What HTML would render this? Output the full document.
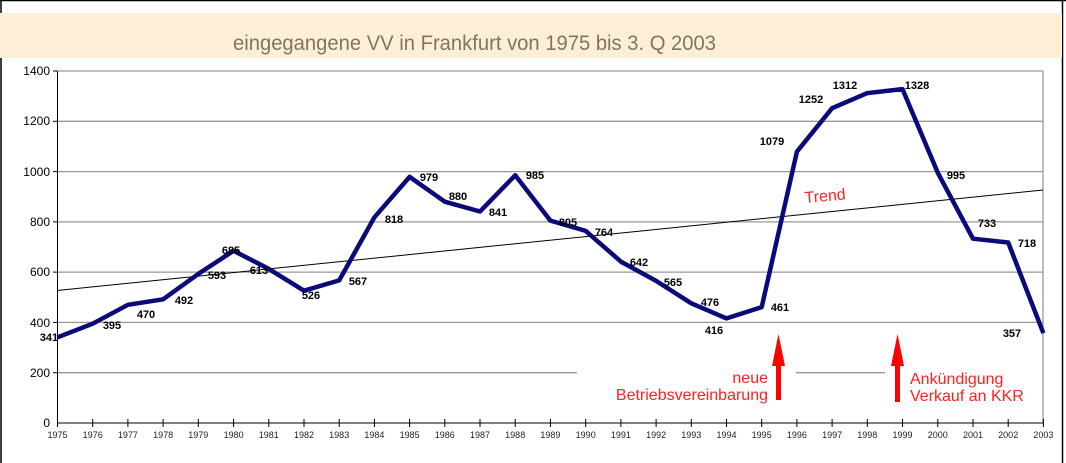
<!DOCTYPE html>
<html><head><meta charset="utf-8"><style>
html,body{margin:0;padding:0;background:#fff;}
svg{display:block;}
</style></head><body>
<svg width="1066" height="463" viewBox="0 0 1066 463" xmlns="http://www.w3.org/2000/svg" font-family="Liberation Sans, Arial, sans-serif">
<rect x="0" y="0" width="1066" height="463" fill="#fff"/>
<line x1="0" y1="0.5" x2="1066" y2="0.5" stroke="#000" stroke-width="1.5"/>
<line x1="1" y1="0" x2="1" y2="463" stroke="#000" stroke-width="1.5"/>
<line x1="1062.5" y1="0" x2="1062.5" y2="463" stroke="#000" stroke-width="1.5"/>
<rect x="0" y="13" width="1062" height="45" fill="#fdefd5"/>
<text x="233" y="50" font-size="21" fill="#7f7566" textLength="483" lengthAdjust="spacingAndGlyphs">eingegangene VV in Frankfurt von 1975 bis 3. Q 2003</text>
<g stroke="#999" stroke-width="1.3">
<line x1="57" y1="71" x2="1043" y2="71"/>
<line x1="57" y1="121.3" x2="1043" y2="121.3"/>
<line x1="57" y1="171.6" x2="1043" y2="171.6"/>
<line x1="57" y1="221.9" x2="1043" y2="221.9"/>
<line x1="57" y1="272.1" x2="1043" y2="272.1"/>
<line x1="57" y1="322.4" x2="1043" y2="322.4"/>
<line x1="57" y1="372.7" x2="577" y2="372.7"/>
<line x1="796" y1="372.7" x2="885" y2="372.7"/>
<line x1="1043" y1="71" x2="1043" y2="423"/>
</g>
<line x1="57.5" y1="71" x2="57.5" y2="423" stroke="#000" stroke-width="1"/>
<line x1="57" y1="423" x2="1043" y2="423" stroke="#555" stroke-width="1.5"/>
<g stroke="#000" stroke-width="1">
<line x1="53" y1="71" x2="57" y2="71"/><line x1="53" y1="121.3" x2="57" y2="121.3"/><line x1="53" y1="171.6" x2="57" y2="171.6"/><line x1="53" y1="221.9" x2="57" y2="221.9"/><line x1="53" y1="272.1" x2="57" y2="272.1"/><line x1="53" y1="322.4" x2="57" y2="322.4"/><line x1="53" y1="372.7" x2="57" y2="372.7"/>
<line x1="57.5" y1="419" x2="57.5" y2="427"/><line x1="92.7" y1="419" x2="92.7" y2="427"/><line x1="127.9" y1="419" x2="127.9" y2="427"/><line x1="163.1" y1="419" x2="163.1" y2="427"/><line x1="198.3" y1="419" x2="198.3" y2="427"/><line x1="233.6" y1="419" x2="233.6" y2="427"/><line x1="268.8" y1="419" x2="268.8" y2="427"/><line x1="304" y1="419" x2="304" y2="427"/><line x1="339.2" y1="419" x2="339.2" y2="427"/><line x1="374.4" y1="419" x2="374.4" y2="427"/><line x1="409.6" y1="419" x2="409.6" y2="427"/><line x1="444.8" y1="419" x2="444.8" y2="427"/><line x1="480" y1="419" x2="480" y2="427"/><line x1="515.2" y1="419" x2="515.2" y2="427"/><line x1="550.4" y1="419" x2="550.4" y2="427"/><line x1="585.7" y1="419" x2="585.7" y2="427"/><line x1="620.9" y1="419" x2="620.9" y2="427"/><line x1="656.1" y1="419" x2="656.1" y2="427"/><line x1="691.3" y1="419" x2="691.3" y2="427"/><line x1="726.5" y1="419" x2="726.5" y2="427"/><line x1="761.7" y1="419" x2="761.7" y2="427"/><line x1="796.9" y1="419" x2="796.9" y2="427"/><line x1="832.1" y1="419" x2="832.1" y2="427"/><line x1="867.3" y1="419" x2="867.3" y2="427"/><line x1="902.5" y1="419" x2="902.5" y2="427"/><line x1="937.8" y1="419" x2="937.8" y2="427"/><line x1="973" y1="419" x2="973" y2="427"/><line x1="1008.2" y1="419" x2="1008.2" y2="427"/><line x1="1043.4" y1="419" x2="1043.4" y2="427"/>
</g>
<g font-size="12" fill="#000" text-anchor="end">
<text x="50" y="75">1400</text><text x="50" y="125">1200</text><text x="50" y="176">1000</text><text x="50" y="226">800</text><text x="50" y="276">600</text><text x="50" y="327">400</text><text x="50" y="377">200</text><text x="50" y="427">0</text>
</g>
<g font-size="9" fill="#222" text-anchor="middle">
<text x="57.5" y="438">1975</text><text x="92.7" y="438">1976</text><text x="127.9" y="438">1977</text><text x="163.1" y="438">1978</text><text x="198.3" y="438">1979</text><text x="233.6" y="438">1980</text><text x="268.8" y="438">1981</text><text x="304" y="438">1982</text><text x="339.2" y="438">1983</text><text x="374.4" y="438">1984</text><text x="409.6" y="438">1985</text><text x="444.8" y="438">1986</text><text x="480" y="438">1987</text><text x="515.2" y="438">1988</text><text x="550.4" y="438">1989</text><text x="585.7" y="438">1990</text><text x="620.9" y="438">1991</text><text x="656.1" y="438">1992</text><text x="691.3" y="438">1993</text><text x="726.5" y="438">1994</text><text x="761.7" y="438">1995</text><text x="796.9" y="438">1996</text><text x="832.1" y="438">1997</text><text x="867.3" y="438">1998</text><text x="902.5" y="438">1999</text><text x="937.8" y="438">2000</text><text x="973" y="438">2001</text><text x="1008.2" y="438">2002</text><text x="1043.4" y="438">2003</text>
</g>
<line x1="57" y1="290.5" x2="1043" y2="190" stroke="#000" stroke-width="1"/>
<text x="805" y="203" font-size="16" fill="#ff2020" transform="rotate(-5 805 203)">Trend</text>
<polyline fill="none" stroke="#0a0a7a" stroke-width="4.5" stroke-linejoin="round" points="57.5,337.3 92.7,323.7 127.9,304.8 163.1,299.3 198.3,273.9 233.6,250.8 268.8,268.9 304,290.7 339.2,280.4 374.4,217.3 409.6,176.9 444.8,201.7 480,211.5 515.2,175.3 550.4,220.6 585.7,230.9 620.9,261.6 656.1,280.9 691.3,303.3 726.5,318.4 761.7,307.1 796.9,151.7 832.1,108.2 867.3,93.1 902.5,89.1 937.8,172.8 973,238.7 1008.2,242.5 1043.4,333.2"/>
<g font-size="11" font-weight="bold" fill="#000" text-anchor="middle">
<text x="49" y="341">341</text><text x="112" y="329">395</text><text x="146" y="318">470</text><text x="184" y="304">492</text><text x="217" y="279">593</text><text x="231" y="254">685</text><text x="259" y="274">613</text><text x="311" y="299">526</text><text x="358" y="285">567</text><text x="394" y="223">818</text><text x="429" y="181">979</text><text x="458" y="200">880</text><text x="498" y="216">841</text><text x="535" y="179">985</text><text x="568" y="226">805</text><text x="604" y="236">764</text><text x="639" y="266">642</text><text x="673" y="286">565</text><text x="710" y="306">476</text><text x="714" y="334">416</text><text x="780" y="311">461</text><text x="772" y="145">1079</text><text x="811" y="103">1252</text><text x="845" y="89">1312</text><text x="917" y="89">1328</text><text x="956" y="179">995</text><text x="987" y="227">733</text><text x="1027" y="247">718</text><text x="1012" y="337">357</text>
</g>
<g fill="#ff0000">
<rect x="776" y="360" width="5" height="40"/><polygon points="778.5,334 772,366 785,366"/>
<rect x="895" y="360" width="5" height="42"/><polygon points="897.5,334 891,366 904,366"/>
</g>
<g font-size="16" fill="#ff2020">
<text x="768" y="383" text-anchor="end">neue</text>
<text x="768" y="400" text-anchor="end">Betriebsvereinbarung</text>
<text x="910" y="384">Ankündigung</text>
<text x="910" y="401">Verkauf an KKR</text>
</g>
</svg>
</body></html>
